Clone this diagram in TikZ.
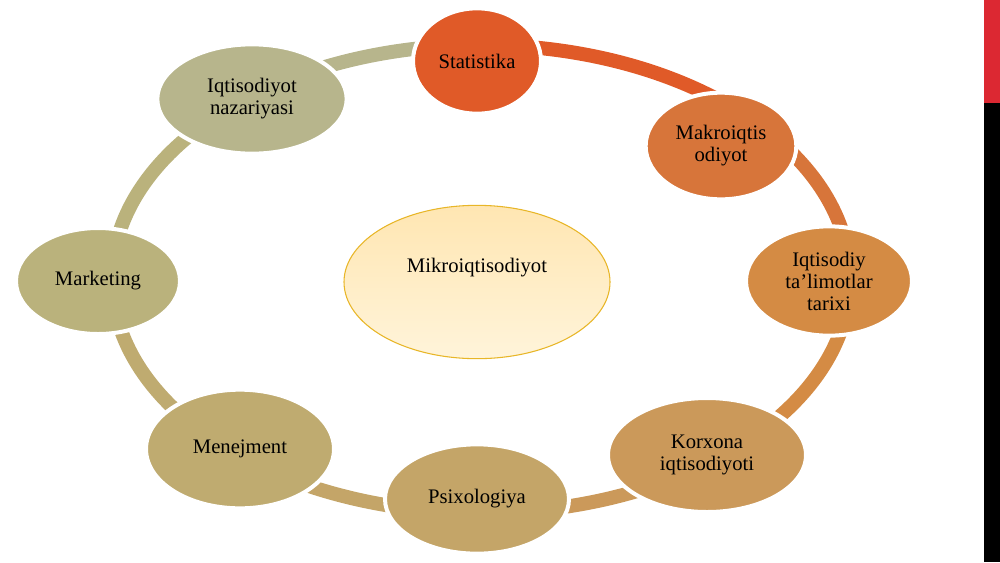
\documentclass[tikz,border=0pt]{standalone}
\usepackage{fontspec}
\setmainfont{Liberation Serif}
\usetikzlibrary{shapes.geometric}

\definecolor{cStat}{RGB}{224,90,40}
\definecolor{cMakro}{RGB}{215,117,58}
\definecolor{cTarix}{RGB}{212,139,68}
\definecolor{cKorx}{RGB}{203,153,90}
\definecolor{cPsix}{RGB}{196,165,104}
\definecolor{cMenej}{RGB}{191,171,112}
\definecolor{cMarket}{RGB}{186,178,124}
\definecolor{cNaz}{RGB}{183,181,140}
\definecolor{mikroTop}{RGB}{255,230,178}
\definecolor{mikroBot}{RGB}{255,244,218}
\definecolor{mikroLine}{RGB}{232,182,40}
\definecolor{barRed}{RGB}{220,40,50}

\begin{document}
\begin{tikzpicture}[x=0.75pt,y=0.75pt,yscale=-1,xscale=1,
  cyclenode/.style={ellipse,draw=white,line width=3pt,inner sep=0pt,align=center,
    font=\fontsize{15.5}{16.5}\selectfont},
  ringarc/.style={line width=10.5pt}]
\useasboundingbox (0,0) rectangle (1000,562);

%Shape: Bars at the right edge
\fill [barRed] (984,0) rectangle (1000,103);
\fill [black] (984,103) rectangle (1000,562);

%Shape: Ring, one arc for each step
\coordinate (ring) at (481,279);
\foreach \a/\b/\c in {269.3/318.8/cStat, 318.8/360.5/cMakro, 0.5/50.9/cTarix,
    50.9/90.7/cKorx, 90.7/131.9/cPsix, 131.9/179.5/cMenej, 179.5/231.1/cMarket,
    231.1/269.3/cNaz}
  \draw [ringarc,draw=\c] (ring) ++(\a:369 and 234) arc [start angle=\a,end angle=\b,x radius=369,y radius=234];

%Shape: Ellipse nodes of the cycle
\node [cyclenode,fill=cStat,minimum width=96pt,minimum height=79pt] (stat) at (477,61) {Statistika};
\node [cyclenode,fill=cMakro,minimum width=113pt,minimum height=80pt] (makro) at (721,146) {Makroiqtis\\odiyot};
\node [cyclenode,fill=cTarix,minimum width=124.5pt,minimum height=82pt] (tarix) at (829,281) {Iqtisodiy\\ta’limotlar\\tarixi};
\node [cyclenode,fill=cKorx,minimum width=148.5pt,minimum height=85.5pt] (korxona) at (707,455) {Korxona\\iqtisodiyoti};
\node [cyclenode,fill=cPsix,minimum width=138pt,minimum height=82pt] (psix) at (477,499) {Psixologiya};
\node [cyclenode,fill=cMenej,minimum width=141pt,minimum height=89pt] (menej) at (240,449) {Menejment};
\node [cyclenode,fill=cMarket,minimum width=123pt,minimum height=79.5pt] (market) at (98,281) {Marketing};
\node [cyclenode,fill=cNaz,minimum width=142pt,minimum height=82pt] (nazariya) at (252,99) {Iqtisodiyot\\nazariyasi};

%Shape: Centre ellipse
\node [ellipse,draw=mikroLine,line width=0.8pt,top color=mikroTop,bottom color=mikroBot,
  minimum width=199.5pt,minimum height=115pt,inner sep=0pt,
  label={[yshift=11pt,font=\fontsize{15.5}{16.5}\selectfont]center:Mikroiqtisodiyot}] (mikro) at (477,282) {};

\end{tikzpicture}
\end{document}
